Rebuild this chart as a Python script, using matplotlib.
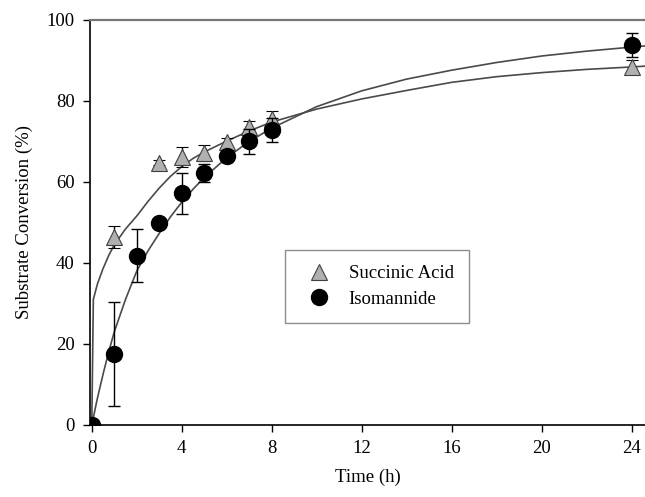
import matplotlib
matplotlib.use('Agg')
import matplotlib.pyplot as plt

# measured points
time_h = [0, 1, 2, 3, 4, 5, 6, 7, 8, 24]
succ_time = [0, 1, 3, 4, 5, 6, 7, 8, 24]
succ_vals = [0, 46.5, 64.8, 66.2, 67.2, 69.8, 73.5, 75.5, 88.5]
succ_err = [0, 2.7, 0.6, 2.5, 2.0, 1.0, 1.5, 2.0, 1.5]

iso_vals = [0, 17.5, 41.8, 49.9, 57.2, 62.2, 66.5, 70.0, 72.8, 93.8]
iso_err = [0, 12.8, 6.6, 1.0, 5.0, 2.3, 1.0, 3.0, 3.0, 3.0]

# fitted curves
succ_fit_x = [0, 0.07, 0.25, 0.5, 0.75, 1, 1.5, 2, 2.5, 3, 3.5, 4, 4.5, 5, 6, 7, 8,
              10, 12, 14, 16, 18, 20, 22, 24, 24.6]
succ_fit_y = [0, 31, 34.8, 38.6, 41.8, 44.5, 48.4, 51.6, 55.2, 58.5, 61.4, 63.8, 65.8,
              67.4, 70.1, 72.6, 74.8, 78, 80.5, 82.6, 84.6, 86, 87, 87.8, 88.4, 88.6]
iso_fit_x = [0, 0.25, 0.5, 0.75, 1, 1.5, 2, 2.5, 3, 3.5, 4, 4.5, 5, 6, 7, 8,
             10, 12, 14, 16, 18, 20, 22, 24, 24.6]
iso_fit_y = [0, 6.6, 12.5, 18, 23, 31, 38, 43, 47.3, 51.4, 55, 58.2, 61.1, 66, 70, 73.3,
             78.6, 82.5, 85.4, 87.6, 89.5, 91.1, 92.3, 93.3, 93.6]

plt.rcParams['font.family'] = ['Liberation Serif', 'DejaVu Serif']

fig = plt.figure(figsize=(6.45, 4.97), dpi=100)
ax = fig.add_axes([0.1395, 0.1449, 0.8605, 0.8149])

ax.plot(succ_fit_x, succ_fit_y, color='#4a4a4a', lw=1.2, zorder=2)
ax.plot(iso_fit_x, iso_fit_y, color='#4a4a4a', lw=1.2, zorder=2)

ax.errorbar(succ_time, succ_vals, yerr=succ_err, fmt='^', ms=11, mfc='#b0b0b0', mec='#404040',
            mew=0.8, ecolor='black', elinewidth=1, capsize=4.3, capthick=1, zorder=3,
            label='Succinic Acid')
ax.errorbar(time_h, iso_vals, yerr=iso_err, fmt='o', ms=11.5, mfc='black', mec='black',
            ecolor='black', elinewidth=1, capsize=4.3, capthick=1, zorder=4,
            label='Isomannide')

ax.set_xlim(-0.08, 24.6)
ax.set_ylim(0, 100)
ax.set_xticks([0, 4, 8, 12, 16, 20, 24])
ax.set_yticks([0, 20, 40, 60, 80, 100])

ax.spines['right'].set_visible(False)
ax.spines['top'].set_color('#777777')
ax.spines['top'].set_linewidth(1.6)
ax.spines['left'].set_linewidth(1.2)
ax.spines['bottom'].set_linewidth(1.2)
ax.tick_params(direction='out', length=5, width=1, labelsize=13.5, pad=6)

ax.set_xlabel('Time (h)', fontsize=13.5, labelpad=8)
ax.set_ylabel('Substrate Conversion (%)', fontsize=13.5, labelpad=10)

handles, labels = ax.get_legend_handles_labels()
handles = [h[0] for h in handles]
leg = ax.legend(handles, labels, loc='upper left', bbox_to_anchor=(0.351, 0.432), fontsize=13.5,
                frameon=True, fancybox=False, edgecolor='#707070', borderpad=0.8,
                borderaxespad=0, handletextpad=0.6, labelspacing=0.45, handlelength=2.0)
leg.get_frame().set_linewidth(1.0)

fig.savefig('out.png', dpi=100)
